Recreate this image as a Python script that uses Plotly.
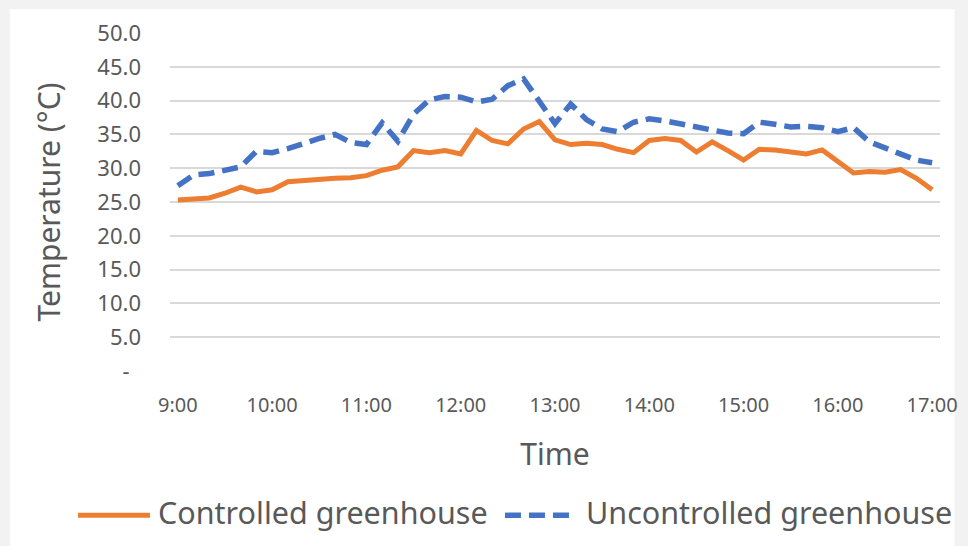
import plotly.graph_objects as go

# Sampling times (every 10 minutes, 9:00-17:00)
times = [
    "9:00", "9:10", "9:20", "9:30", "9:40", "9:50",
    "10:00", "10:10", "10:20", "10:30", "10:40", "10:50",
    "11:00", "11:10", "11:20", "11:30", "11:40", "11:50",
    "12:00", "12:10", "12:20", "12:30", "12:40", "12:50",
    "13:00", "13:10", "13:20", "13:30", "13:40", "13:50",
    "14:00", "14:10", "14:20", "14:30", "14:40", "14:50",
    "15:00", "15:10", "15:20", "15:30", "15:40", "15:50",
    "16:00", "16:10", "16:20", "16:30", "16:40", "16:50",
    "17:00",
]

# Air temperature (°C)
controlled = [
    25.3, 25.4, 25.6, 26.3, 27.2, 26.5,
    26.8, 28.0, 28.2, 28.3, 28.5, 28.6,
    28.9, 29.7, 30.2, 32.6, 32.3, 32.6,
    32.1, 35.6, 34.1, 33.6, 35.8, 36.9,
    34.2, 33.5, 33.7, 33.5, 32.8, 32.3,
    34.1, 34.4, 34.1, 32.4, 33.9, 32.6,
    31.2, 32.8, 32.7, 32.4, 32.1, 32.7,
    31.0, 29.3, 29.5, 29.4, 29.8, 28.5,
    26.8,
]
uncontrolled = [
    27.4, 29.0, 29.2, 29.6, 30.2, 32.5,
    32.3, 32.9, 33.7, 34.4, 35.0, 33.8,
    33.5, 36.7, 34.0, 38.0, 40.1, 40.6,
    40.5, 39.8, 40.2, 42.2, 43.2, 39.8,
    36.6, 39.5, 37.2, 35.8, 35.4, 36.8,
    37.3, 37.0, 36.5, 36.0, 35.5, 35.2,
    35.1, 36.8, 36.5, 36.1, 36.2, 36.0,
    35.4, 36.0, 33.9, 33.0, 32.0, 31.2,
    30.8,
]

series_names = ["Controlled greenhouse", "Uncontrolled greenhouse"]
series_colors = ["#ED7D31", "#4472C4"]
series_dash = ["solid", "16px,8px"]

hour_ticks = ["9:00", "10:00", "11:00", "12:00", "13:00", "14:00", "15:00", "16:00", "17:00"]
y_ticks = [0, 5, 10, 15, 20, 25, 30, 35, 40, 45, 50]
y_tick_text = ["-\u00a0\u00a0", "5.0", "10.0", "15.0", "20.0", "25.0",
               "30.0", "35.0", "40.0", "45.0", "50.0"]

FONT = "Noto Sans"
TEXT = "#595959"

fig = go.Figure()
for name, vals, color, dash in zip(series_names, [controlled, uncontrolled], series_colors, series_dash):
    fig.add_trace(go.Scatter(
        x=times, y=vals, mode="lines", name=name,
        line=dict(color=color, width=5 if dash == "solid" else 5.5, dash=dash),
    ))

# Key below the chart: a line sample followed by the series name
legend_shapes = []
legend_notes = []
key_y = -0.427
key_items = [(-0.1195, -0.026, -0.018), (0.435, 0.526, 0.538)]
for (x0, x1, xt), name, color, dash in zip(key_items, series_names, series_colors, series_dash):
    legend_shapes.append(dict(
        type="line", xref="paper", yref="paper", x0=x0, x1=x1, y0=key_y, y1=key_y,
        line=dict(color=color, width=5 if dash == "solid" else 5.5, dash=dash),
    ))
    legend_notes.append(dict(
        xref="paper", yref="paper", x=xt, y=key_y + 0.01, xanchor="left", yanchor="middle",
        text=name, showarrow=False, font=dict(size=30.5, color=TEXT, family=FONT),
    ))

card = dict(
    type="rect", xref="paper", yref="paper", layer="below",
    x0=-0.208, x1=1.019, y0=-0.56, y1=1.07,
    fillcolor="white", line=dict(width=0),
)

fig.update_layout(
    width=968, height=546,
    margin=dict(l=170, r=28, t=33, b=175, autoexpand=False),
    paper_bgcolor="#f2f2f2",
    plot_bgcolor="white",
    font=dict(family=FONT, color=TEXT),
    showlegend=False,
    shapes=[card] + legend_shapes,
    annotations=legend_notes,
)

fig.update_xaxes(
    type="category", categoryorder="array", categoryarray=times,
    range=[-0.5, len(times) - 0.5],
    tickmode="array", tickvals=hour_ticks, ticktext=hour_ticks,
    showgrid=False, zeroline=False, showline=False, ticks="",
    tickfont=dict(size=20, color=TEXT, family=FONT),
    ticklabelstandoff=20,
    title=dict(text="Time", font=dict(size=30, color=TEXT, family=FONT), standoff=26),
)
fig.update_yaxes(
    range=[0, 50], tickmode="array", tickvals=y_ticks, ticktext=y_tick_text,
    showgrid=True, gridcolor="#d9d9d9", gridwidth=2,
    zeroline=False, showline=False, ticks="",
    tickfont=dict(size=22, color=TEXT, family=FONT),
    ticklabelstandoff=28,
    title=dict(text="Temperature (°C)", font=dict(size=30, color=TEXT, family=FONT), standoff=27),
)

fig.write_html("out.html")
